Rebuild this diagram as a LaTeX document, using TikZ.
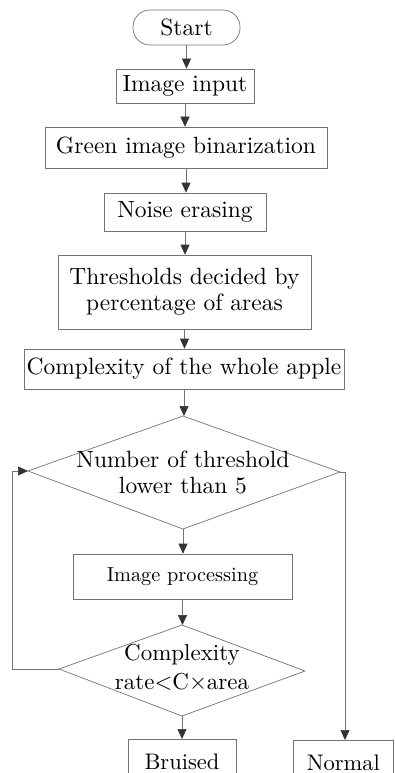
\documentclass[tikz,border=0pt]{standalone}
\usepackage{fontspec}
\setmainfont{lmroman10-regular}[Extension=.otf]
\usetikzlibrary{arrows.meta}
\begin{document}
\begin{tikzpicture}[x=1pt,y=-1pt,
  line/.style={draw=black!55, line width=0.7pt},
  arr/.style={line, -{Triangle[width=9pt,length=10pt,color=black!80]}},
  box/.style={draw=black!55, line width=0.7pt, inner sep=0pt, align=center, font=\fontsize{23.5}{26}\selectfont},
  txt/.style={inner sep=0pt, align=center, font=\fontsize{23.5}{26}\selectfont}]
\useasboundingbox (0,0) rectangle (394,773);
\clip (0,0) rectangle (394,773);
% boxes
\node[box, rounded corners=17pt, minimum width=107, minimum height=35] (start) at (186.5,27.5) {Start};
\node[box, minimum width=138, minimum height=34] (in) at (185,86) {Image input};
\node[box, minimum width=282, minimum height=41] (green) at (186,147.5) {Green image binarization};
\node[box, minimum width=162, minimum height=38] (noise) at (185,212) {Noise erasing};
\node[box, minimum width=253, minimum height=74] (thr) at (184.5,292) {Thresholds decided by\\percentage of areas};
\node[box, minimum width=320, minimum height=40] (cx) at (184,369) {Complexity of the whole apple};
% diamond 1
\coordinate (d1t) at (183,416);
\coordinate (d1r) at (340,472);
\coordinate (d1b) at (183,529);
\coordinate (d1l) at (28,471);
\draw[line] (d1t) -- (d1r) -- (d1b) -- (d1l) -- cycle;
\node[txt] (d1) at (183,472) {Number of threshold\\lower than 5};
% image processing
\node[box, minimum width=219, minimum height=45, font=\fontsize{20.3}{24}\selectfont] (ip) at (182.5,576.5) {Image processing};
% diamond 2
\coordinate (d2t) at (182,625);
\coordinate (d2r) at (305,671);
\coordinate (d2b) at (182,716);
\coordinate (d2l) at (59,669);
\draw[line] (d2t) -- (d2r) -- (d2b) -- (d2l) -- cycle;
\node[txt, font=\fontsize{23}{29}\selectfont] (d2) at (182,667) {Complexity\\rate<C×area};
% outputs
\node[box, anchor=north, minimum width=108, minimum height=44, font=\fontsize{22.5}{26}\selectfont] (bruised) at (182,739) {Bruised};
\node[box, anchor=north west, minimum width=100, minimum height=44, font=\fontsize{22.5}{26}\selectfont] (normal) at (293,740) {Normal};
% connectors
\draw[arr] (start.south) -- (start.south |- in.north);
\draw[arr] (in.south) -- (in.south |- green.north);
\draw[arr] (green.south) -- (green.south |- noise.north);
\draw[arr] (noise.south) -- (noise.south |- thr.north);
\draw[arr] (thr.south) -- (thr.south |- cx.north);
\draw[arr] (cx.south) -- (cx.south |- d1t);
\draw[arr] (d1b) -- (d1b |- ip.north);
\draw[arr] (ip.south) -- (ip.south |- d2t);
\draw[arr] (d2b) -- (d2b |- bruised.north);
\coordinate (lp) at (12,669);
\draw[arr] (d2l) -- (lp) |- (d1l);
\coordinate (rp) at (345,472);
\draw[arr] (d1r) -- (rp) -- (rp |- normal.north);
\end{tikzpicture}
\end{document}
